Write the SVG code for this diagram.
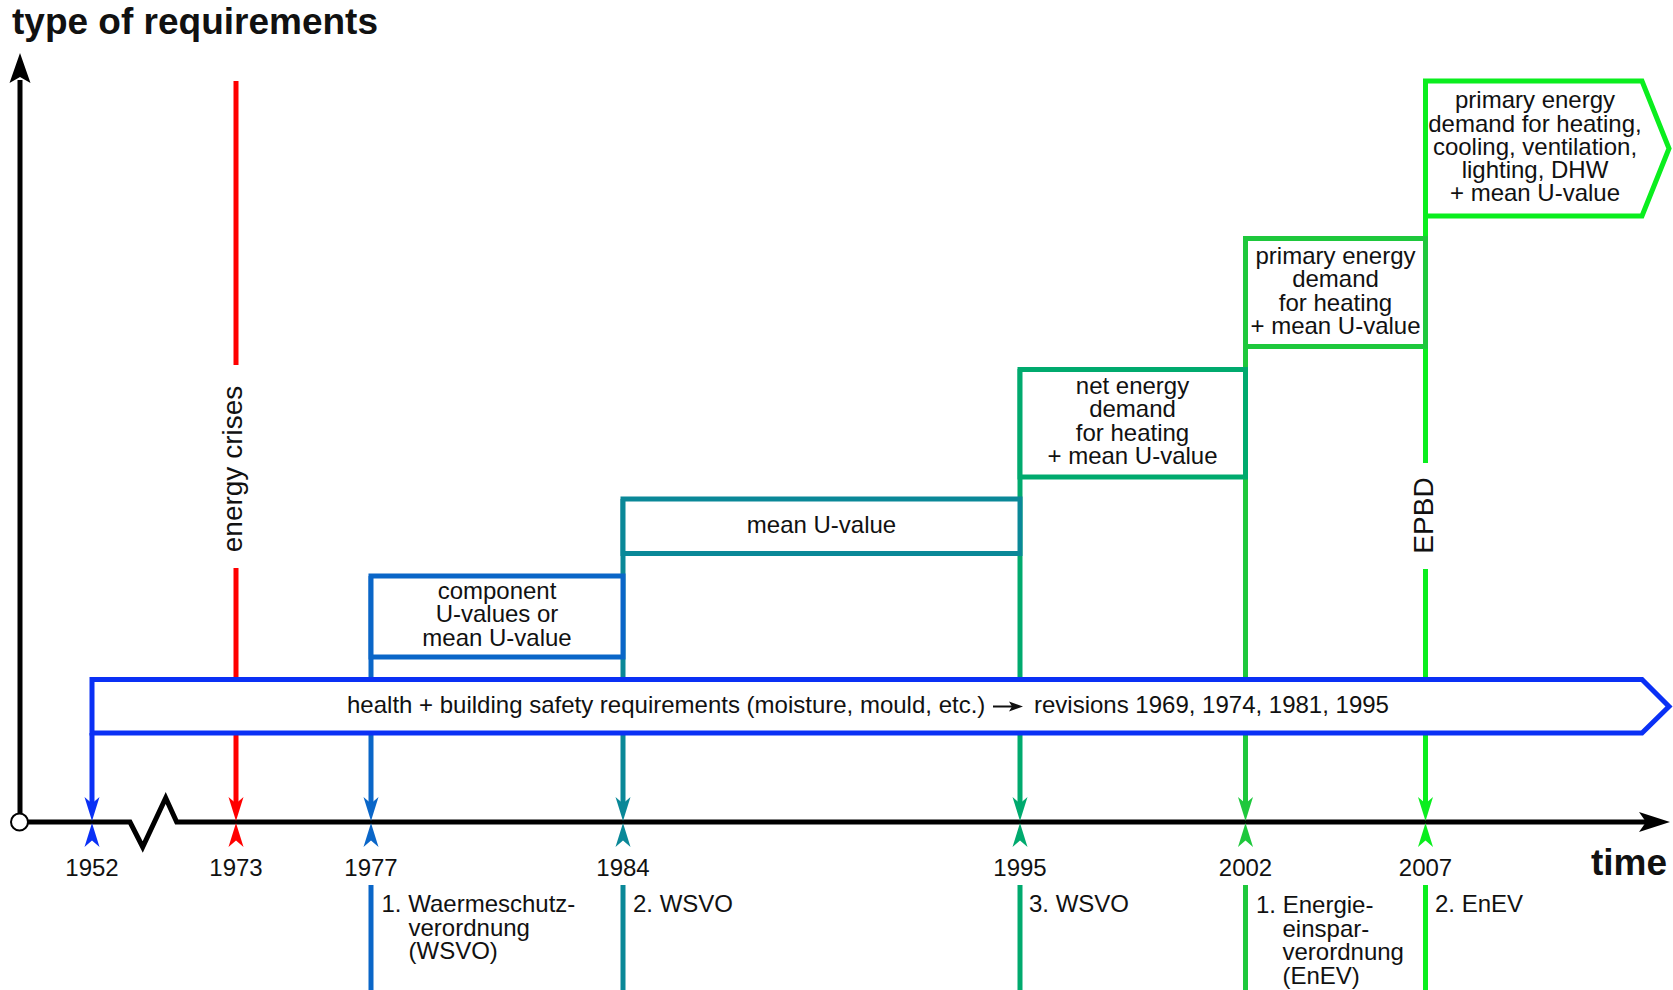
<svg xmlns="http://www.w3.org/2000/svg" width="1673" height="990" viewBox="0 0 1673 990">
<style>
text{font-family:"Liberation Sans",Arial,sans-serif;fill:#111;}
.t{font-size:24px;}
.c{font-size:24px;text-anchor:middle;}
.r{font-size:28px;text-anchor:middle;}
.b{font-size:37px;font-weight:bold;}
.ln{fill:none;stroke-width:5;}
.box{fill:#fff;stroke-width:5;stroke-linejoin:miter;}
</style>
<rect width="1673" height="990" fill="#fff"/>
<g id="connectors">
  <path class="ln" stroke="#0a30f5" d="M92,733V804"/>
  <path class="ln" stroke="#ff0000" d="M236,81V365M236,568V804"/>
  <path class="ln" stroke="#0a66c8" d="M371,576V804M371,885V990"/>
  <path class="ln" stroke="#0a8898" d="M623,499V804M623,885V990"/>
  <path class="ln" stroke="#00aa6e" d="M1020,369V804M1020,885V990"/>
  <path class="ln" stroke="#1ec83c" d="M1245.5,238V804M1245.5,885V990"/>
  <path class="ln" stroke="#0aee1e" d="M1425.5,216V463M1425.5,569V804M1425.5,885V990"/>
  <path d="M20,822V80" stroke="#000" stroke-width="5" fill="none"/>
  <polygon points="20,53 30.5,83 20,77 9.5,83" fill="#000"/>
  <path d="M28,822H130L142.7,847L165.7,798L176.7,822H1648" stroke="#000" stroke-width="5" fill="none" stroke-linejoin="miter"/>
  <polygon points="1670,822 1639,812 1646,822 1639,832" fill="#000"/>
  <circle cx="19.5" cy="822" r="8.5" fill="#fff" stroke="#000" stroke-width="2"/>
  <g fill="#0a30f5"><polygon points="92,821 84.5,797 92,803.5 99.5,797"/><polygon points="92,823 84.5,847 92,840.5 99.5,847"/></g>
  <g fill="#ff0000"><polygon points="236,821 228.5,797 236,803.5 243.5,797"/><polygon points="236,823 228.5,847 236,840.5 243.5,847"/></g>
  <g fill="#0a66c8"><polygon points="371,821 363.5,797 371,803.5 378.5,797"/><polygon points="371,823 363.5,847 371,840.5 378.5,847"/></g>
  <g fill="#0a8898"><polygon points="623,821 615.5,797 623,803.5 630.5,797"/><polygon points="623,823 615.5,847 623,840.5 630.5,847"/></g>
  <g fill="#00aa6e"><polygon points="1020,821 1012.5,797 1020,803.5 1027.5,797"/><polygon points="1020,823 1012.5,847 1020,840.5 1027.5,847"/></g>
  <g fill="#1ec83c"><polygon points="1245.5,821 1238,797 1245.5,803.5 1253,797"/><polygon points="1245.5,823 1238,847 1245.5,840.5 1253,847"/></g>
  <g fill="#0aee1e"><polygon points="1425.5,821 1418,797 1425.5,803.5 1433,797"/><polygon points="1425.5,823 1418,847 1425.5,840.5 1433,847"/></g>
</g>

<g id="box-1977">
  <rect class="box" stroke="#0a66c8" x="371" y="576" width="252" height="81"/>
  <text class="c" x="497" y="598.5">component</text>
  <text class="c" x="497" y="622">U-values or</text>
  <text class="c" x="497" y="645.5">mean U-value</text>
</g>
<g id="box-1984">
  <rect class="box" stroke="#0a8898" x="623" y="499" width="397" height="54.5"/>
  <text class="c" x="821.5" y="533">mean U-value</text>
</g>
<g id="box-1995">
  <rect class="box" stroke="#00aa6e" x="1020" y="369.5" width="225.5" height="107.5"/>
  <text class="c" x="1132.5" y="394">net energy</text>
  <text class="c" x="1132.5" y="417">demand</text>
  <text class="c" x="1132.5" y="440.5">for heating</text>
  <text class="c" x="1132.5" y="464">+ mean U-value</text>
</g>
<g id="box-2002">
  <rect class="box" stroke="#1ec83c" x="1245.5" y="238.5" width="180" height="108"/>
  <text class="c" x="1335.5" y="264">primary energy</text>
  <text class="c" x="1335.5" y="287">demand</text>
  <text class="c" x="1335.5" y="310.5">for heating</text>
  <text class="c" x="1335.5" y="333.5">+ mean U-value</text>
</g>
<g id="box-2007">
  <polygon class="box" stroke="#0aee1e" points="1425.5,81 1642,81 1669,148.5 1642,216 1425.5,216"/>
  <text class="c" x="1535" y="108">primary energy</text>
  <text class="c" x="1535" y="131.5">demand for heating,</text>
  <text class="c" x="1535" y="154.5">cooling, ventilation,</text>
  <text class="c" x="1535" y="177.5">lighting, DHW</text>
  <text class="c" x="1535" y="200.5">+ mean U-value</text>
</g>
<g id="band-health">
  <polygon class="box" stroke="#0a30f5" points="92,679.5 1642,679.5 1669,706.5 1642,733 92,733"/>
  <text class="t" x="347" y="713">health + building safety requirements (moisture, mould, etc.)</text>
  <path d="M993,706.5H1013" stroke="#111" stroke-width="2"/>
  <polygon points="1023,706.5 1009,701.5 1012,706.5 1009,711.5" fill="#111"/>
  <text class="t" x="1034" y="713">revisions 1969, 1974, 1981, 1995</text>
</g>
<g id="label-energy-crises">
  <text class="r" transform="translate(242,469) rotate(-90)">energy crises</text>
</g>
<g id="label-epbd">
  <text class="r" transform="translate(1433,515.5) rotate(-90)">EPBD</text>
</g>
<g id="years">
  <text class="c" x="92" y="876">1952</text>
  <text class="c" x="236" y="876">1973</text>
  <text class="c" x="371" y="876">1977</text>
  <text class="c" x="623" y="876">1984</text>
  <text class="c" x="1020" y="876">1995</text>
  <text class="c" x="1245.5" y="876">2002</text>
  <text class="c" x="1425.5" y="876">2007</text>
</g>
<g id="regulations">
  <text class="t" x="381.5" y="912">1. Waermeschutz-</text>
  <text class="t" x="408.5" y="935.5">verordnung</text>
  <text class="t" x="408.5" y="959">(WSVO)</text>
  <text class="t" x="633" y="912">2. WSVO</text>
  <text class="t" x="1029" y="912">3. WSVO</text>
  <text class="t" x="1256" y="913">1. Energie-</text>
  <text class="t" x="1282.5" y="936.5">einspar-</text>
  <text class="t" x="1282.5" y="960">verordnung</text>
  <text class="t" x="1282.5" y="983.5">(EnEV)</text>
  <text class="t" x="1435" y="912">2. EnEV</text>
</g>
<g id="titles">
  <text class="b" x="12" y="34">type of requirements</text>
  <text class="b" x="1667" y="875" text-anchor="end">time</text>
</g>
</svg>
